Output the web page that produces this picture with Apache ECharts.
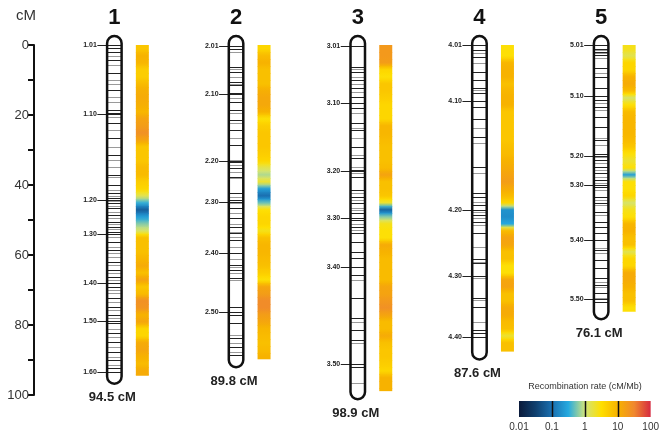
<!DOCTYPE html>
<html>
<head>
<meta charset="utf-8">
<script src="https://cdn.jsdelivr.net/npm/echarts@6/dist/echarts.min.js"></script>
<style>
html,body{margin:0;padding:0;background:#fff;}
#main{width:662px;height:433px;}
</style>
</head>
<body>
<div id="main"></div>
<script>
// ---------------- DATA ----------------
const chroms = ['1', '2', '3', '4', '5'];
const lengths = [94.5, 89.8, 98.9, 87.6, 76.1];
const lengthLabels = ['94.5 cM', '89.8 cM', '98.9 cM', '87.6 cM', '76.1 cM'];

// labelled markers (name, position in cM)
const chr1Labels = ['1.01', '1.10', '1.20', '1.30', '1.40', '1.50', '1.60'];
const chr1LabelPos = [0, 19.8, 44.3, 54, 68.1, 78.9, 93.5];
const chr2Labels = ['2.01', '2.10', '2.20', '2.30', '2.40', '2.50'];
const chr2LabelPos = [0.2, 14, 33.1, 44.9, 59.5, 76.4];
const chr3Labels = ['3.01', '3.10', '3.20', '3.30', '3.40', '3.50'];
const chr3LabelPos = [0.2, 16.5, 35.9, 49.5, 63.3, 91.1];
const chr4Labels = ['4.01', '4.10', '4.20', '4.30', '4.40'];
const chr4LabelPos = [0, 15.9, 47.1, 66, 83.3];
const chr5Labels = ['5.01', '5.10', '5.20', '5.30', '5.40', '5.50'];
const chr5LabelPos = [0, 14.5, 31.6, 40.1, 55.7, 72.6];

// other markers (cM) - dark and grey
const chr1Markers = [0.8, 1.9, 4.3, 8.1, 12.9, 18.6, 19.3, 22.4, 26.7, 31.4, 37.1, 40, 42.4, 43.8, 45.2, 46.7, 48.6, 50.5, 51.9, 53.3, 56.2, 58.6, 61.9, 64.3, 66.2, 69, 72.4, 74.8, 77.1, 79.5, 82.4, 84.8, 87.6, 90, 92.4];
const chr1MarkersGrey = [3.1, 5.7, 10, 11, 14.8, 16.2, 20.5, 24.3, 29, 32.9, 34.8, 37.6, 41.4, 43, 44.5, 45.9, 47.6, 49.5, 51.2, 52.6, 54.8, 57.6, 59.5, 60.5, 62.9, 65.2, 67.1, 70, 70.9, 73.3, 75.7, 78.1, 81, 83.3, 86.2, 89, 91.4, 93.3];
const chr2Markers = [1, 6.2, 7.6, 10.5, 11.4, 13.8, 16.2, 18.6, 21.4, 24.3, 28.6, 33.3, 35.2, 37.6, 42.4, 44.3, 46.7, 49.5, 51.9, 53.8, 55.7, 59.5, 62.9, 64.3, 66.7, 74.8, 77.1, 79.5, 83.8, 86.2, 88.6];
const chr2MarkersGrey = [1.9, 6.95, 9, 11, 15.2, 19.5, 22.2, 26.7, 32.9, 34.3, 36.2, 38.1, 43.3, 45.2, 48.1, 51, 53.3, 54.8, 57.6, 61, 63.3, 65.2, 67.1, 76.2, 82.9, 85.2, 87.6];
const chr3Markers = [6.2, 7.6, 10, 12.4, 14.8, 18.1, 22.4, 24.3, 29, 32.4, 35.7, 37.6, 41.4, 43.3, 45.2, 48.1, 50, 51.9, 53.8, 56.2, 59, 60.9, 65.7, 72.4, 78.1, 81.4, 84.3, 91.9];
const chr3MarkersGrey = [6.95, 9, 11, 13.3, 19.5, 23.8, 26.7, 31.4, 34.8, 36.7, 42.4, 44.3, 46.7, 47.1, 51, 52.9, 67.1, 79, 85.2, 96.7];
const chr4Markers = [1.4, 3.3, 7.6, 10, 12.4, 13.8, 17.6, 21, 26.2, 34.8, 42.4, 43.3, 45.7, 48.6, 50.5, 53.8, 61, 62.4, 72.4, 74.8, 81.4, 82.4];
const chr4MarkersGrey = [2.4, 5.2, 12.9, 23.8, 28.1, 36.7, 44.8, 47.6, 49.5, 51.4, 57.6, 61.9, 66.7, 72.9, 79];
const chr5Markers = [1, 1.9, 2.9, 6.7, 9, 12.4, 15.7, 17.6, 20.5, 23.3, 27.1, 31, 32.9, 34.8, 36.7, 38.6, 40.5, 43.3, 45.2, 47.6, 50.5, 51.9, 53.8, 58.6, 61.4, 63.8, 66.7, 68.6, 70.9, 73.3];
const chr5MarkersGrey = [1.4, 2.4, 3.8, 8.1, 16.7, 18.6, 26.7, 28.6, 31.9, 33.8, 35.7, 37.6, 39.5, 41.4, 44.3, 45.7, 48.6, 58.1, 59.5, 67.6, 69, 72.4];

// recombination rate (cM/Mb) in consecutive 2-cM bins from 0 cM
const chr1Rate = [6, 10, 9, 5, 5, 8, 11, 12, 11, 9, 15, 18, 25, 15, 6, 6, 6, 8, 8, 5, 4, 1.5, 0.35, 0.07, 0.25, 0.6, 1.2, 7, 7, 7, 9, 12, 7, 15, 6, 8, 25, 22, 10, 14, 4, 4, 12, 14, 10, 8, 12, 12];
const chr2Rate = [4, 8, 10, 7, 7, 7, 11, 13, 13, 10, 3, 5, 6, 6, 6, 5, 4, 1.5, 0.8, 2, 0.25, 0.1, 0.5, 3, 4, 4, 2.5, 7, 9, 9, 8, 7, 5, 3, 14, 18, 28, 28, 18, 14, 9, 8, 7, 8, 10];
const chr3Rate = [20, 20, 18, 4, 3, 6, 6, 5, 4, 4, 4, 9, 9, 8, 7, 7, 7, 8, 15, 7, 7, 6, 2, 0.08, 0.6, 2.5, 3, 3, 12, 10, 8, 8, 8, 8, 14, 15, 20, 25, 15, 8, 8, 12, 7, 6, 6, 5, 4, 10, 10, 10];
const chr4Rate = [3, 3, 9, 10, 10, 7, 9, 10, 10, 6, 6, 6, 6, 6, 7, 8, 10, 12, 15, 18, 12, 8, 4, 0.2, 0.18, 0.3, 8, 15, 14, 7, 7, 3, 3, 14, 15, 7, 7, 12, 12, 8, 7, 2, 7, 7];
const chr5Rate = [2.5, 1.5, 4, 4, 10, 12, 8, 1.2, 3, 8, 9, 9, 9, 8, 6, 3, 2, 3, 0.25, 3, 3, 4, 1.2, 2.5, 3, 9, 10, 7, 7, 1.5, 4, 4, 12, 12, 10, 7, 7, 3, 3];

// colour scale (log10 of rate, -2 .. 2) and legend ticks
const legendTicks = [-2, -1, 0, 1, 2];
const legendTickLabels = ['0.01', '0.1', '1', '10', '100'];
const legendDividers = [-1, 0, 1];
const palette = ['#0a1a3a', '#0f3f6e', '#1a6fb0', '#26aae0', '#d0e47c', '#ffdf00', '#f7b200', '#f0882e', '#d62a40'];

// ---------------- ASSEMBLY ----------------
const labelSets = [
  [chr1Labels, chr1LabelPos], [chr2Labels, chr2LabelPos], [chr3Labels, chr3LabelPos],
  [chr4Labels, chr4LabelPos], [chr5Labels, chr5LabelPos]
];
const markerSets = [
  [chr1Markers, chr1MarkersGrey], [chr2Markers, chr2MarkersGrey], [chr3Markers, chr3MarkersGrey],
  [chr4Markers, chr4MarkersGrey], [chr5Markers, chr5MarkersGrey]
];
const rateSets = [chr1Rate, chr2Rate, chr3Rate, chr4Rate, chr5Rate];
const BIN = 2;
const FONT = "'Liberation Sans', Arial, sans-serif";

function logT(r) { return Math.max(0, Math.min(1, (Math.log10(r) + 2) / 4)); }
function colorAtT(t) { return echarts.color.lerp(t, palette); }

function renderChrom(params, api) {
  const i = api.value(0);
  const L = lengths[i];
  const top = api.coord([i, 0]);
  const bot = api.coord([i, L]);
  const cx = top[0];
  const halfW = 7.25;
  const children = [];
  children.push({
    type: 'rect',
    shape: { x: cx - halfW, y: top[1] - 9, width: halfW * 2, height: bot[1] - top[1] + 17, r: halfW },
    style: { fill: '#fff', stroke: null }
  });
  const [dark, grey] = markerSets[i];
  grey.forEach(function (m) {
    const y = Math.round(api.coord([i, m])[1]) + 0.5;
    children.push({ type: 'line', shape: { x1: cx - halfW, y1: y, x2: cx + halfW, y2: y }, style: { stroke: '#9a9a9a', lineWidth: 1 } });
  });
  dark.forEach(function (m) {
    const y = Math.round(api.coord([i, m])[1]) + 0.5;
    children.push({ type: 'line', shape: { x1: cx - halfW, y1: y, x2: cx + halfW, y2: y }, style: { stroke: '#222', lineWidth: 1 } });
  });
  const [names, pos] = labelSets[i];
  names.forEach(function (n, k) {
    const y = Math.round(api.coord([i, pos[k]])[1]) + 0.5;
    children.push({ type: 'line', shape: { x1: cx - 17, y1: y, x2: cx + halfW, y2: y }, style: { stroke: '#222', lineWidth: 1 } });
    children.push({
      type: 'text',
      style: { text: n, x: cx - 17.5, y: y, align: 'right', verticalAlign: 'middle', textAlign: 'right', textVerticalAlign: 'middle',
        font: 'bold 7px ' + FONT, fill: '#222' }
    });
  });
  children.push({
    type: 'rect',
    shape: { x: cx - halfW, y: top[1] - 9, width: halfW * 2, height: bot[1] - top[1] + 17, r: halfW },
    style: { fill: null, stroke: '#111', lineWidth: 2.5 }
  });
  const rates = rateSets[i];
  const bx = cx + 21.5, bw = 13;
  rates.forEach(function (r, k) {
    const s = k * BIN, e = Math.min((k + 1) * BIN, L);
    if (e <= s) return;
    const y0 = api.coord([i, s])[1];
    const y1 = api.coord([i, e])[1];
    const tm = logT(r);
    const tp = k > 0 ? (logT(rates[k - 1]) + tm) / 2 : tm;
    const tn = k < rates.length - 1 && e < L ? (logT(rates[k + 1]) + tm) / 2 : tm;
    children.push({
      type: 'rect',
      shape: { x: bx, y: y0, width: bw, height: y1 - y0 + (e < L ? 0.6 : 0) },
      style: {
        fill: new echarts.graphic.LinearGradient(0, 0, 0, 1, [
          { offset: 0, color: colorAtT(tp) },
          { offset: 0.5, color: colorAtT(tm) },
          { offset: 1, color: colorAtT(tn) }
        ])
      }
    });
  });
  children.push({
    type: 'text',
    style: { text: lengthLabels[i], x: cx - 2, y: bot[1] + 22, align: 'center', verticalAlign: 'middle',
      textAlign: 'center', textVerticalAlign: 'middle', font: 'bold 13px ' + FONT, fill: '#222' }
  });
  return { type: 'group', children: children };
}

function renderLegendBar(params, api) {
  const p0 = api.coord([api.value(0), 1]);
  const p1 = api.coord([api.value(1), 0]);
  const stops = palette.map(function (c, k) { return { offset: k / (palette.length - 1), color: c }; });
  return {
    type: 'rect',
    shape: { x: p0[0], y: p0[1], width: p1[0] - p0[0], height: p1[1] - p0[1] },
    style: { fill: new echarts.graphic.LinearGradient(0, 0, 1, 0, stops) }
  };
}
function renderDivider(params, api) {
  const p0 = api.coord([api.value(0), 1]);
  const p1 = api.coord([api.value(0), 0]);
  const x = Math.round(p0[0]) + 0.5;
  return { type: 'line', shape: { x1: x, y1: p0[1], x2: x, y2: p1[1] }, style: { stroke: '#111', lineWidth: 1.5 } };
}

const chart = echarts.init(document.getElementById('main'), null, { renderer: 'canvas' });
chart.setOption({
  animation: false,
  backgroundColor: '#fff',
  textStyle: { fontFamily: FONT },
  grid: [
    { left: 53.5, top: 45, width: 609.5, height: 350 },
    { left: 519, top: 401, width: 133, height: 16 }
  ],
  xAxis: [
    {
      gridIndex: 0, type: 'category', data: chroms, position: 'top', boundaryGap: true,
      axisLine: { show: false }, axisTick: { show: false }, splitLine: { show: false },
      axisLabel: { fontSize: 22, fontWeight: 'bold', color: '#111', margin: 16, fontFamily: FONT }
    },
    {
      gridIndex: 1, type: 'value', min: -2, max: 2, interval: 1,
      axisLine: { show: false }, axisTick: { show: false }, splitLine: { show: false },
      axisLabel: { fontSize: 10, color: '#333', margin: 5, fontFamily: FONT,
        formatter: function (v) { return legendTickLabels[legendTicks.indexOf(v)]; } }
    }
  ],
  yAxis: [
    {
      gridIndex: 0, type: 'value', min: 0, max: 100, interval: 10, inverse: true, offset: 19.5,
      axisLine: { show: true, lineStyle: { color: '#111', width: 2 } },
      axisTick: { show: true, length: 6, lineStyle: { color: '#111', width: 2 } },
      splitLine: { show: false },
      axisLabel: { fontSize: 13, color: '#333', margin: 5, fontFamily: FONT,
        formatter: function (v) { return v % 20 === 0 ? String(v) : ''; } }
    },
    { gridIndex: 1, type: 'value', min: 0, max: 1, show: false }
  ],
  graphic: [
    { type: 'text', left: 16, top: 8, style: { text: 'cM', font: '15px ' + FONT, fill: '#333' } },
    { type: 'text', x: 585, y: 387, style: { text: 'Recombination rate (cM/Mb)', font: '9px ' + FONT, fill: '#333',
      align: 'center', verticalAlign: 'middle', textAlign: 'center', textVerticalAlign: 'middle' } }
  ],
  series: [
    {
      type: 'custom', xAxisIndex: 0, yAxisIndex: 0, clip: false,
      encode: { x: 0, y: 1 },
      data: chroms.map(function (c, i) { return [i, 0]; }),
      renderItem: renderChrom
    },
    {
      type: 'custom', xAxisIndex: 1, yAxisIndex: 1, clip: false,
      encode: { x: 0 },
      data: [[legendTicks[0], legendTicks[legendTicks.length - 1]]],
      renderItem: renderLegendBar
    },
    {
      type: 'custom', xAxisIndex: 1, yAxisIndex: 1, clip: false, z: 5,
      encode: { x: 0 },
      data: legendDividers.map(function (v) { return [v]; }),
      renderItem: renderDivider
    }
  ]
});
</script>
</body>
</html>
